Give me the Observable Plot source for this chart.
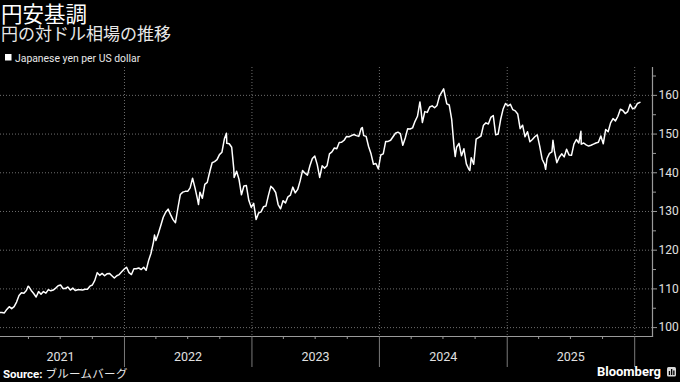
<!DOCTYPE html>
<html><head><meta charset="utf-8">
<script src="https://cdn.jsdelivr.net/npm/d3@7"></script>
<script src="https://cdn.jsdelivr.net/npm/@observablehq/plot@0.6"></script>
<style>
html,body{margin:0;padding:0;background:#000;}
#wrap{position:relative;width:680px;height:382px;overflow:hidden;background:#000;}
#chart{position:absolute;left:0;top:62px;}
#overlay{position:absolute;left:0;top:0;pointer-events:none;}
</style></head>
<body><div id="wrap">
<div id="chart"></div>
<svg id="overlay" width="680" height="382">
  <text x="1" y="21.5" font-family="'Noto Sans CJK JP', sans-serif" font-size="21.5" fill="#ffffff">円安基調</text>
  <text x="1" y="39.5" font-family="'Noto Sans CJK JP', sans-serif" font-size="17" fill="#e8e8e8">円の対ドル相場の推移</text>
  <rect x="5" y="54" width="6.5" height="6.5" fill="#ffffff"/>
  <text x="15" y="62" font-family="Roboto, 'Liberation Sans', sans-serif" font-size="10.4" fill="#e8e8e8">Japanese yen per US dollar</text>
  <text x="3" y="377.5" font-family="Roboto, 'Noto Sans CJK JP', sans-serif" font-size="11.5" fill="#e8e8e8"><tspan font-weight="700" fill="#ffffff">Source:</tspan> <tspan font-family="'Noto Sans CJK JP', sans-serif" font-size="11.5" letter-spacing="0.3">ブルームバーグ</tspan></text>
  <text x="661" y="376" text-anchor="end" font-family="Roboto, 'Liberation Sans', sans-serif" font-size="13" font-weight="700" fill="#ffffff">Bloomberg</text>
  <rect x="667" y="367" width="9" height="9.5" rx="1.5" fill="#d8d8d8"/>
  <rect x="668.8" y="371" width="1.3" height="4" fill="#000"/>
  <rect x="671" y="369" width="1.3" height="6" fill="#000"/>
  <rect x="673.2" y="370.5" width="1.3" height="4.5" fill="#000"/>
</svg>
</div>
<script>
// Weekly (Friday) closes, USD/JPY, starting 2021-01-08
const firstFriday = "2021-01-08";
const y2021 = [103.9,103.9,103.8,104.7, 105.4,104.9,105.4,106.6, 108.3,109.0,108.9,109.6, 110.6,109.6,108.8,107.9,109.3, 108.6,109.3,108.9,109.8, 109.5,109.7,110.2,110.8, 111.0,110.1,110.1,110.5,109.7, 110.2,109.6,109.8,109.8, 109.7,109.9,109.9,110.7, 111.0,112.2,114.2,113.5,114.0, 113.4,113.9,114.0,113.4, 112.8,113.4,113.7,114.4,115.1];
const y2022 = [115.6,114.2,113.7,115.2, 115.2,115.4,115.0,115.6, 114.8,117.3,119.2,122.1, 122.5,124.3,126.4,128.5,129.8, 130.6,129.2,127.9,127.1, 130.9,134.4,135.0,135.2, 135.2,136.1,138.6,136.1,133.2, 135.0,133.4,137.0,137.5, 140.2,142.6,142.9,143.4,144.7, 145.3,148.7,147.6,147.5, 146.6,138.8,140.4,138.3, 134.3,136.6,136.7,132.9,131.1];
const y2023 = [132.1,127.9,129.6,129.9, 131.2,131.4,134.1,136.5, 135.9,134.9,131.8,130.7,132.8, 132.2,133.8,134.2,136.3, 134.8,135.7,137.9,140.6, 139.9,139.4,141.8,143.7,144.3, 142.1,138.8,141.8,141.2, 141.8,144.9,145.4,146.4, 146.2,147.8,147.9,148.4,149.4, 149.3,149.6,149.9,149.6, 149.4,151.5,149.6,149.4, 146.8,144.9,142.2,142.4,141.0];
const y2024 = [144.6,144.9,148.1,148.1, 148.4,149.3,150.2,150.5, 150.1,147.1,149.0,151.4,151.3, 151.6,153.3,154.6,158.3, 153.0,155.8,155.6,157.0,157.3, 156.8,157.4,159.8,160.9, 160.8,157.8,157.5,153.8, 146.5,146.6,147.6,144.4,146.2, 142.3,140.9,143.9,142.2, 148.7,149.1,149.5,152.3, 152.9,152.6,154.3,154.8,149.8, 150.0,153.7,156.4,157.9];
const y2025 = [157.3,157.7,156.3,156.0,155.2, 151.4,152.3,149.3,150.6, 148.0,148.6,149.3,149.8, 146.9,143.5,142.2,143.7, 145.0,145.4,145.7,142.6,144.0, 144.9,144.1,146.1,144.6, 144.5,147.4,148.6,147.7, 147.4,147.7,147.2,146.9,147.1, 147.4,147.7,147.9,149.5, 147.5,151.2,150.6,152.9,154.0, 153.4,154.6,156.4,156.1, 155.3,155.8,157.7,156.5];
const y2026 = [156.8,157.9,158.2];
// Extra daily closes at notable turning points
const extraDates = ["2021-03-31","2022-03-28","2022-08-01","2022-10-20","2022-11-10","2023-11-13","2024-04-29","2024-07-03","2024-08-05","2024-09-16","2025-04-21","2025-05-12","2025-07-31"];
const extraValues = [110.7,123.9,131.8,150.2,141.0,151.7,156.3,161.7,144.2,140.6,140.9,148.4,150.7];
// Axis ticks
const yMajor = [100,110,120,130,140,150,160];
const yMinor = [105,115,125,135,145,155,165];
const yearStarts = ["2022-01-01","2023-01-01","2024-01-01","2025-01-01","2026-01-01"];
const yearLabels = ["2021-07-02","2022-07-02","2023-07-02","2024-07-02","2025-07-02"];
const quarterTicks = ["2021-04-01","2021-07-01","2021-10-01","2022-04-01","2022-07-01","2022-10-01","2023-04-01","2023-07-01","2023-10-01","2024-04-01","2024-07-01","2024-10-01","2025-04-01","2025-07-01","2025-10-01"];
const xDomain = ["2021-01-11","2026-02-21"];
const yDomain = [97.7, 167.2];

const weekly = [...y2021, ...y2022, ...y2023, ...y2024, ...y2025, ...y2026];
const start = new Date(firstFriday + "T00:00:00Z");
const data = weekly.map((v, i) => ({date: new Date(start.getTime() + i * 7 * 864e5), value: v}))
  .concat(extraDates.map((d, i) => ({date: new Date(d + "T00:00:00Z"), value: extraValues[i]})))
  .sort((a, b) => a.date - b.date);
const D = s => new Date(s + "T00:00:00Z");

const chart = Plot.plot({
  width: 680, height: 320,
  marginTop: 5, marginBottom: 46, marginLeft: 0, marginRight: 28,
  style: {background: "#000", color: "#d0d0d0", fontFamily: "Roboto, 'Liberation Sans', sans-serif", fontSize: "12px", overflow: "visible"},
  x: {type: "utc", domain: xDomain.map(D)},
  y: {domain: yDomain},
  marks: [
    Plot.gridY(yMajor, {stroke: "#8a8a8a", strokeOpacity: 1, strokeDasharray: "1,2", strokeWidth: 0.8}),
    Plot.gridX(yearStarts.map(D), {stroke: "#8a8a8a", strokeOpacity: 1, strokeDasharray: "1,2", strokeWidth: 0.8}),
    Plot.frame({anchor: "bottom", stroke: "#9a9a9a", strokeWidth: 1.2}),
    Plot.frame({anchor: "right", stroke: "#9a9a9a", strokeWidth: 1.2}),
    Plot.axisX(quarterTicks.map(D), {tickSize: 3, tickFormat: () => "", stroke: "#9a9a9a"}),
    Plot.axisX(yearStarts.map(D), {tickSize: 31, tickFormat: () => "", stroke: "#7a7a7a"}),
    Plot.axisX(yearLabels.map(D), {tickSize: 0, tickPadding: 16, tickFormat: d3.utcFormat("%Y"), fill: "#e0e0e0", fontSize: 12.5, label: null}),
    Plot.axisY(yMajor, {anchor: "right", tickSize: 4, tickPadding: 2, stroke: "#9a9a9a", fill: "#e0e0e0", fontSize: 12, label: null}),
    Plot.axisY(yMinor, {anchor: "right", tickSize: 3, tickFormat: () => "", stroke: "#9a9a9a", label: null}),
    Plot.lineY(data, {x: "date", y: "value", stroke: "#fff", strokeWidth: 1.5, curve: "linear"})
  ]
});
document.getElementById("chart").appendChild(chart);
</script>
</body></html>
